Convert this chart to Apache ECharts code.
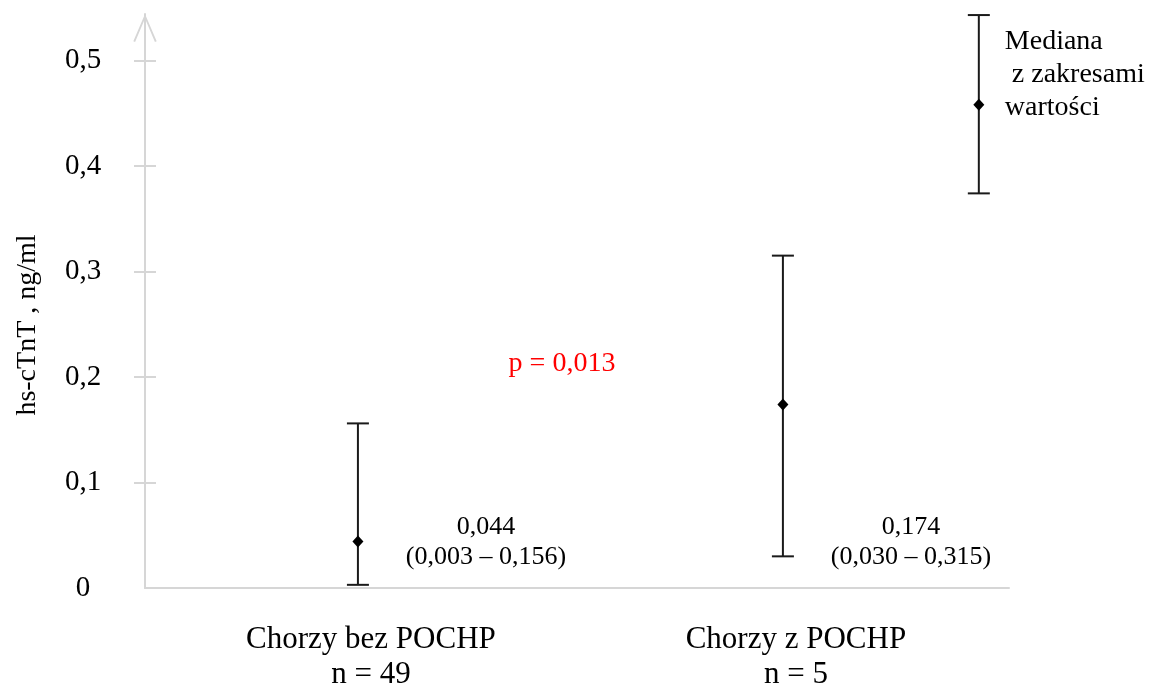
<!DOCTYPE html>
<html>
<head>
<meta charset="utf-8">
<script src="https://cdn.jsdelivr.net/npm/echarts@6/dist/echarts.min.js"></script>
<style>
  html, body { margin: 0; padding: 0; background: #fff; }
  #chart { width: 1159px; height: 687px; }
</style>
</head>
<body>
<div id="chart"></div>
<script>
// Groups compared
const categories = ['Chorzy bez POCHP', 'Chorzy z POCHP'];
const groupSizes = [49, 5];
// hs-cTnT, ng/ml: median with min-max range per group
const medians = [0.044, 0.174];
const lows = [0.003, 0.030];
const highs = [0.156, 0.315];
// Y axis ticks
const yTicks = [0, 0.1, 0.2, 0.3, 0.4, 0.5];
// Key glyph: [x position, low, median, high]
const keySample = [1.461, 0.374, 0.458, 0.543];
const keyText = 'Mediana\n z zakresami\nwartości';
const pValueText = 'p = 0,013';

const SERIF = '"Liberation Serif", "Times New Roman", serif';
const INK = '#1a1a1a';
const AXIS_GREY = '#d6d6d6';

const fmt = v => v.toFixed(3).replace('.', ',');
const fmtTick = v => (Math.round(v * 10) / 10).toString().replace('.', ',');

const barData = categories.map((c, i) => [i, lows[i], medians[i], highs[i]]);

function errorBar(api, x, lo, mid, hi) {
  const pHi = api.coord([x, hi]);
  const pLo = api.coord([x, lo]);
  const pMid = api.coord([x, mid]);
  const cap = 11;
  const ls = { stroke: INK, lineWidth: 2 };
  return [
    { type: 'line', shape: { x1: pHi[0], y1: pHi[1], x2: pLo[0], y2: pLo[1] }, style: ls },
    { type: 'line', shape: { x1: pHi[0] - cap, y1: pHi[1], x2: pHi[0] + cap, y2: pHi[1] }, style: ls },
    { type: 'line', shape: { x1: pLo[0] - cap, y1: pLo[1], x2: pLo[0] + cap, y2: pLo[1] }, style: ls },
    { type: 'polygon', shape: { points: [[pMid[0], pMid[1] - 6], [pMid[0] + 5.5, pMid[1]], [pMid[0], pMid[1] + 6], [pMid[0] - 5.5, pMid[1]]] },
      style: { fill: '#000' } }
  ];
}

const chart = echarts.init(document.getElementById('chart'), null, { renderer: 'canvas' });

chart.setOption({
  animation: false,
  backgroundColor: '#fff',
  grid: { left: 145, right: 150, top: 14, bottom: 99, outerBoundsMode: 'none', containLabel: false },
  xAxis: {
    type: 'value',
    min: -0.501,
    max: 1.532,
    splitLine: { show: false },
    axisTick: { show: false },
    axisLine: { show: true, onZero: false, lineStyle: { color: AXIS_GREY, width: 2 } },
    axisLabel: {
      customValues: [0, 1],
      formatter: v => categories[Math.round(v)] + '\nn = ' + groupSizes[Math.round(v)],
      fontFamily: SERIF,
      fontSize: 31,
      lineHeight: 35,
      color: '#000',
      margin: 34,
      padding: [0, 0, 0, 26]
    }
  },
  yAxis: [
    {
      type: 'value',
      min: 0,
      max: 0.544,
      splitLine: { show: false },
      axisLine: {
        show: true,
        onZero: false,
        lineStyle: { color: AXIS_GREY, width: 2 },
        symbol: ['none', 'path://M0,28 L12,0 L24,28 L22.2,28.8 L12,4.6 L1.8,28.8 Z'],
        symbolSize: [24, 28],
        symbolOffset: [0, -14]
      },
      axisTick: { show: true, customValues: yTicks.slice(1), length: 11, lineStyle: { color: AXIS_GREY, width: 2 } },
      axisLabel: {
        customValues: yTicks,
        formatter: fmtTick,
        fontFamily: SERIF,
        fontSize: 29,
        color: '#000',
        align: 'center',
        margin: 62
      }
    },
    {
      type: 'value',
      min: 0,
      max: 0.544,
      position: 'left',
      splitLine: { show: false },
      axisLine: { show: false, onZero: false },
      axisLabel: { show: false },
      axisTick: { show: true, inside: true, customValues: yTicks.slice(1), length: 11, lineStyle: { color: AXIS_GREY, width: 2 } }
    }
  ],
  series: [
    {
      type: 'custom',
      name: 'hs-cTnT',
      data: barData,
      clip: false,
      renderItem: (params, api) => {
        const x = api.value(0), lo = api.value(1), mid = api.value(2), hi = api.value(3);
        const children = errorBar(api, x, lo, mid, hi);
        const base = api.coord([x, 0]);
        children.push({
          type: 'text',
          x: base[0] + 128,
          y: base[1] - 46,
          style: {
            text: fmt(mid) + '\n(' + fmt(lo) + ' – ' + fmt(hi) + ')',
            font: '26px ' + SERIF,
            fill: '#000',
            align: 'center',
            verticalAlign: 'middle',
            lineHeight: 30
          }
        });
        return { type: 'group', children };
      }
    },
    {
      type: 'custom',
      name: 'key',
      data: [keySample],
      clip: false,
      renderItem: (params, api) => {
        const x = api.value(0), lo = api.value(1), mid = api.value(2), hi = api.value(3);
        const children = errorBar(api, x, lo, mid, hi);
        const top = api.coord([x, hi]);
        children.push({
          type: 'text',
          x: top[0] + 26,
          y: top[1] + 10,
          style: {
            text: keyText,
            font: '28px ' + SERIF,
            fill: '#000',
            align: 'left',
            verticalAlign: 'top',
            lineHeight: 33
          }
        });
        return { type: 'group', children };
      }
    }
  ],
  graphic: [
    {
      type: 'text',
      x: 28,
      y: 325,
      rotation: Math.PI / 2,
      style: {
        text: 'hs-cTnT , ng/ml',
        font: '28px ' + SERIF,
        fill: '#000',
        align: 'center',
        verticalAlign: 'middle'
      }
    },
    {
      type: 'text',
      x: 562,
      y: 364,
      style: {
        text: pValueText,
        font: '28px ' + SERIF,
        fill: '#ff0000',
        align: 'center',
        verticalAlign: 'middle'
      }
    }
  ]
});
</script>
</body>
</html>
